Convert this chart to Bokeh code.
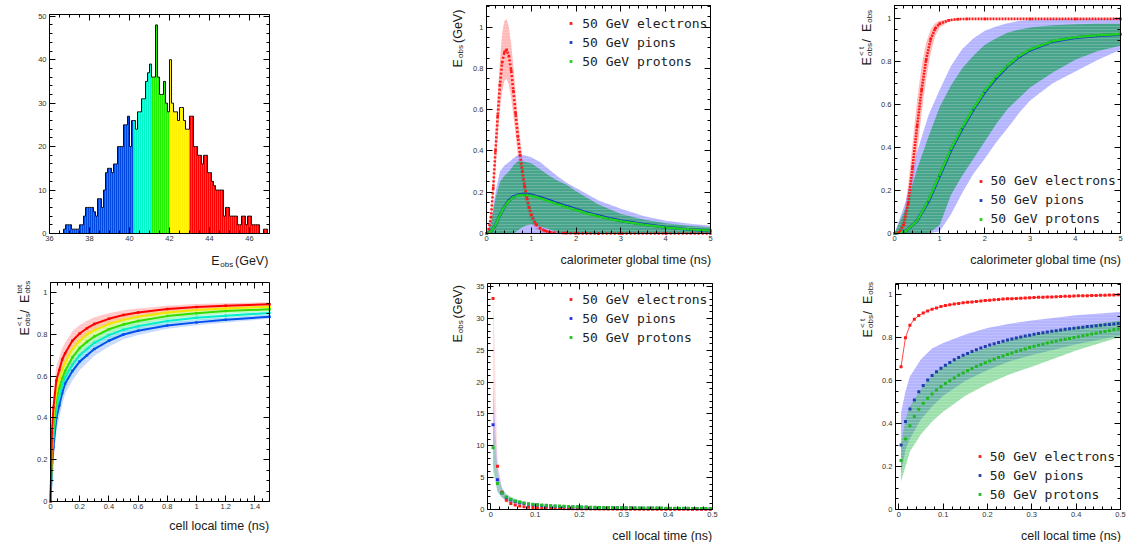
import math
from bokeh.plotting import figure
from bokeh.layouts import column, row
from bokeh.models import (Range1d, LinearAxis, SingleIntervalTicker, CustomJSTickFormatter,
                          Label, Legend, LegendItem)
from bokeh.embed import file_html
from bokeh.resources import INLINE

# ============================ DATA ============================
# Panel 1: histogram of E_obs (GeV), 0.1 GeV bins from 36 to 47
hist_first_edge = 36.0
hist_bin_width = 0.1
hist_counts = [0, 0, 0, 0, 0, 0, 0, 1, 2, 2,
               2, 1, 1, 1, 1, 2, 2, 4, 6, 6,
               6, 6, 5, 4, 8, 8, 6, 10, 14, 15,
               15, 14, 16, 16, 20, 20, 20, 25, 25, 27,
               20, 26, 26, 24, 28, 28, 31, 31, 35, 37,
               39, 36, 36, 48, 36, 32, 32, 35, 30, 28,
               40, 30, 28, 28, 26, 29, 29, 26, 24, 24,
               27, 27, 20, 20, 18, 18, 16, 18, 18, 14,
               14, 12, 11, 10, 10, 10, 10, 4, 6, 6,
               4, 4, 4, 4, 2, 2, 4, 4, 2, 4,
               4, 2, 2, 2, 2, 0, 0, 1, 1, 0]
hist_slice_edges = [40.15, 41.05, 41.95, 42.95]
hist_slice_colors = ["#0047e0", "#00f5c8", "#22ee00", "#ffee00", "#ff0000"]

# Panel 2: E_obs vs calorimeter global time
glob_t_e = [0, 0.05, 0.1, 0.15, 0.2, 0.25, 0.3, 0.35, 0.4, 0.45, 0.5, 0.55, 0.6, 0.65, 0.7, 0.75,
            0.8, 0.85, 0.9, 0.95, 1.0, 1.1, 1.2, 1.3, 1.4, 1.5, 1.75, 2.0, 2.5, 3.0, 4.0, 5.0]
el_E = [0, 0.02, 0.08, 0.22, 0.40, 0.57, 0.72, 0.83, 0.88, 0.89, 0.86, 0.79, 0.69, 0.58, 0.47, 0.38,
        0.30, 0.23, 0.175, 0.125, 0.09, 0.045, 0.024, 0.013, 0.007, 0.004, 0.002, 0.001, 0, 0, 0, 0]
el_E_hi = [0, 0.03, 0.11, 0.27, 0.48, 0.67, 0.84, 0.97, 1.03, 1.04, 1.00, 0.92, 0.81, 0.68, 0.56, 0.46,
           0.37, 0.29, 0.225, 0.17, 0.125, 0.07, 0.04, 0.025, 0.015, 0.01, 0.006, 0.004, 0.002, 0.001, 0.001, 0.001]
el_E_lo = [0, 0.01, 0.05, 0.17, 0.32, 0.47, 0.60, 0.69, 0.74, 0.75, 0.72, 0.66, 0.57, 0.48, 0.38, 0.30,
           0.23, 0.17, 0.125, 0.08, 0.055, 0.02, 0.008, 0.002, 0, 0, 0, 0, 0, 0, 0, 0]
glob_t_h = [0, 0.1, 0.2, 0.3, 0.4, 0.5, 0.6, 0.7, 0.8, 0.9, 1.0, 1.2, 1.4, 1.6, 1.8, 2.0,
            2.25, 2.5, 2.75, 3.0, 3.5, 4.0, 4.5, 5.0]
pi_E = [0, 0.01, 0.04, 0.09, 0.13, 0.16, 0.178, 0.187, 0.19, 0.19, 0.187, 0.175, 0.16, 0.145, 0.131, 0.118,
        0.10, 0.086, 0.073, 0.062, 0.045, 0.03, 0.02, 0.013]
pr_E = [0, 0.01, 0.04, 0.09, 0.13, 0.158, 0.175, 0.184, 0.187, 0.186, 0.183, 0.171, 0.156, 0.141, 0.127, 0.114,
        0.097, 0.083, 0.07, 0.06, 0.043, 0.029, 0.02, 0.014]
glob_t_hb = [0, 0.1, 0.2, 0.3, 0.4, 0.5, 0.6, 0.7, 0.8, 0.9, 1.0, 1.2, 1.4, 1.6, 1.8, 2.0,
             2.5, 3.0, 3.5, 4.0, 4.5, 5.0]
pi_E_hi = [0, 0.06, 0.2, 0.3, 0.33, 0.345, 0.365, 0.38, 0.38, 0.375, 0.37, 0.345, 0.31, 0.275, 0.245, 0.22,
           0.16, 0.12, 0.085, 0.062, 0.048, 0.037]
pi_E_lo = [0, 0, 0, 0, 0, 0, 0, 0, 0, 0, 0, 0, 0, 0, 0, 0, 0, 0, 0, 0, 0, 0]
pr_E_hi = [0, 0.05, 0.17, 0.25, 0.28, 0.30, 0.33, 0.35, 0.35, 0.345, 0.34, 0.31, 0.28, 0.255, 0.235, 0.205,
           0.14, 0.095, 0.068, 0.05, 0.038, 0.03]
pr_E_lo = [0, 0, 0, 0, 0, 0, 0, 0.015, 0.03, 0.04, 0.045, 0.035, 0.02, 0.005, 0, 0,
           0, 0, 0, 0, 0, 0]

# Panel 3: cumulative fraction vs calorimeter global time
glob_t_ec = [0, 0.1, 0.2, 0.3, 0.4, 0.5, 0.6, 0.7, 0.8, 0.9, 1.0, 1.2, 1.4, 1.6, 2.0, 3.0, 4.0, 5.0]
el_frac = [0, 0.005, 0.04, 0.14, 0.31, 0.50, 0.67, 0.81, 0.905, 0.955, 0.978, 0.994, 0.999, 1, 1, 1, 1, 1]
el_frac_hi = [0, 0.012, 0.075, 0.22, 0.42, 0.62, 0.78, 0.89, 0.95, 0.98, 0.992, 0.999, 1, 1, 1, 1, 1, 1]
el_frac_lo = [0, 0.001, 0.015, 0.08, 0.21, 0.38, 0.56, 0.72, 0.84, 0.92, 0.96, 0.987, 0.997, 1, 1, 1, 1, 1]
glob_t_hc = [0, 0.25, 0.5, 0.75, 1.0, 1.25, 1.5, 1.75, 2.0, 2.25, 2.5, 2.75, 3.0, 3.5, 4.0, 4.5, 5.0]
pi_frac = [0, 0.01, 0.06, 0.15, 0.27, 0.39, 0.49, 0.58, 0.66, 0.725, 0.78, 0.823, 0.855, 0.895, 0.913, 0.922, 0.928]
pr_frac = [0, 0.01, 0.06, 0.155, 0.275, 0.395, 0.495, 0.585, 0.665, 0.73, 0.783, 0.826, 0.858, 0.897, 0.915, 0.924, 0.93]
pi_frac_hi = [0, 0.15, 0.38, 0.55, 0.67, 0.78, 0.86, 0.91, 0.945, 0.965, 0.98, 0.99, 0.995, 1.0, 1.0, 1.0, 1.0]
pi_frac_lo = [0, 0, 0, 0, 0.01, 0.09, 0.19, 0.28, 0.35, 0.425, 0.49, 0.56, 0.62, 0.70, 0.755, 0.81, 0.856]
pr_frac_hi = [0, 0.12, 0.30, 0.45, 0.59, 0.69, 0.77, 0.83, 0.88, 0.91, 0.935, 0.95, 0.96, 0.97, 0.975, 0.977, 0.978]
pr_frac_lo = [0, 0, 0, 0, 0.04, 0.18, 0.27, 0.35, 0.43, 0.51, 0.58, 0.63, 0.68, 0.75, 0.81, 0.85, 0.875]

# Panel 4: cumulative fraction vs cell local time, for the five E_obs slices
cell_t4 = [0, 0.01, 0.02, 0.04, 0.06, 0.08, 0.1, 0.15, 0.2, 0.25, 0.3, 0.4, 0.5, 0.6, 0.8, 1.0, 1.2, 1.5]
slice_red = [0, 0.33, 0.45, 0.58, 0.63, 0.68, 0.71, 0.77, 0.805, 0.83, 0.85, 0.875, 0.893, 0.905, 0.922, 0.932, 0.938, 0.945]
slice_yellow = [0, 0.28, 0.41, 0.53, 0.585, 0.63, 0.665, 0.73, 0.77, 0.80, 0.82, 0.85, 0.87, 0.885, 0.905, 0.917, 0.925, 0.933]
slice_green = [0, 0.24, 0.36, 0.49, 0.545, 0.59, 0.625, 0.69, 0.735, 0.765, 0.79, 0.825, 0.848, 0.865, 0.888, 0.902, 0.912, 0.921]
slice_cyan = [0, 0.20, 0.31, 0.44, 0.50, 0.555, 0.595, 0.655, 0.70, 0.73, 0.76, 0.797, 0.823, 0.84, 0.865, 0.88, 0.89, 0.903]
slice_blue = [0, 0.16, 0.26, 0.40, 0.46, 0.52, 0.565, 0.625, 0.67, 0.70, 0.73, 0.77, 0.80, 0.818, 0.843, 0.858, 0.87, 0.885]
slice_halfwidth = [0, 0.07, 0.07, 0.065, 0.06, 0.055, 0.05, 0.045, 0.04, 0.036, 0.032, 0.027, 0.023, 0.02, 0.016, 0.014, 0.012, 0.01]

# Panels 5 and 6: cell local time bins
cell_t = [0.005, 0.015, 0.025, 0.035, 0.045, 0.055, 0.065, 0.075, 0.085, 0.095,
          0.105, 0.115, 0.125, 0.135, 0.145, 0.155, 0.165, 0.175, 0.185, 0.195,
          0.205, 0.215, 0.225, 0.235, 0.245, 0.255, 0.265, 0.275, 0.285, 0.295,
          0.305, 0.315, 0.325, 0.335, 0.345, 0.355, 0.365, 0.375, 0.385, 0.395,
          0.405, 0.415, 0.425, 0.435, 0.445, 0.455, 0.465, 0.475, 0.485, 0.495]
el_cell_E = [33.1, 6.8, 2.7, 1.45, 0.95, 0.72, 0.56, 0.45, 0.37, 0.31,
             0.27, 0.24, 0.21, 0.19, 0.17, 0.155, 0.14, 0.13, 0.12, 0.11,
             0.1, 0.095, 0.09, 0.085, 0.08, 0.075, 0.07, 0.066, 0.062, 0.058,
             0.055, 0.052, 0.049, 0.046, 0.044, 0.042, 0.04, 0.038, 0.036, 0.034,
             0.032, 0.031, 0.03, 0.029, 0.028, 0.027, 0.026, 0.025, 0.024, 0.023]
pi_cell_E = [13.3, 4.65, 2.6, 1.9, 1.5, 1.25, 1.07, 0.94, 0.84, 0.76,
             0.7, 0.64, 0.59, 0.55, 0.52, 0.49, 0.46, 0.43, 0.41, 0.39,
             0.37, 0.35, 0.33, 0.32, 0.3, 0.29, 0.28, 0.27, 0.26, 0.25,
             0.24, 0.23, 0.22, 0.21, 0.205, 0.2, 0.19, 0.185, 0.18, 0.175,
             0.17, 0.165, 0.16, 0.155, 0.15, 0.145, 0.14, 0.137, 0.134, 0.13]
pr_cell_E = [9.7, 4.1, 2.6, 1.95, 1.6, 1.35, 1.17, 1.03, 0.92, 0.83,
             0.76, 0.7, 0.65, 0.6, 0.56, 0.53, 0.5, 0.47, 0.44, 0.42,
             0.4, 0.38, 0.36, 0.35, 0.33, 0.32, 0.31, 0.3, 0.29, 0.28,
             0.27, 0.26, 0.25, 0.245, 0.24, 0.23, 0.225, 0.22, 0.21, 0.205,
             0.2, 0.195, 0.19, 0.185, 0.18, 0.175, 0.17, 0.165, 0.16, 0.155]
cell_t5b = [0.005, 0.015, 0.025, 0.035, 0.045, 0.055, 0.065, 0.075]
el_cell_E_hi = [35.3, 8.0, 3.2, 1.8, 1.2, 0.9, 0.7, 0.56]
el_cell_E_lo = [12.0, 5.5, 2.2, 1.1, 0.7, 0.55, 0.42, 0.34]
pi_cell_E_hi = [19.5, 6.6, 3.4, 2.4, 1.9, 1.6, 1.35, 1.2]
pi_cell_E_lo = [7.0, 2.8, 1.8, 1.4, 1.1, 0.9, 0.8, 0.7]
pr_cell_E_hi = [13.5, 5.5, 3.3, 2.4, 2.0, 1.7, 1.45, 1.3]
pr_cell_E_lo = [6.0, 2.8, 1.9, 1.5, 1.2, 1.0, 0.9, 0.8]

el_cell_frac = [0.665, 0.80, 0.858, 0.886, 0.903, 0.915, 0.925, 0.933, 0.939, 0.945,
                0.950, 0.954, 0.957, 0.960, 0.963, 0.965, 0.967, 0.969, 0.971, 0.973,
                0.975, 0.977, 0.978, 0.980, 0.981, 0.982, 0.983, 0.984, 0.985, 0.986,
                0.987, 0.988, 0.989, 0.990, 0.990, 0.991, 0.992, 0.993, 0.993, 0.994,
                0.995, 0.995, 0.996, 0.997, 0.997, 0.998, 0.998, 0.999, 0.999, 1.0]
pi_cell_frac = [0.30, 0.41, 0.468, 0.51, 0.548, 0.578, 0.603, 0.624, 0.642, 0.658,
                0.672, 0.685, 0.697, 0.708, 0.718, 0.727, 0.736, 0.744, 0.752, 0.759,
                0.766, 0.772, 0.778, 0.784, 0.789, 0.794, 0.799, 0.803, 0.808, 0.812,
                0.816, 0.82, 0.823, 0.827, 0.83, 0.833, 0.836, 0.839, 0.842, 0.844,
                0.847, 0.849, 0.852, 0.854, 0.856, 0.858, 0.86, 0.862, 0.864, 0.866]
pr_cell_frac = [0.228, 0.328, 0.39, 0.433, 0.467, 0.495, 0.518, 0.538, 0.556, 0.572,
                0.587, 0.60, 0.613, 0.625, 0.636, 0.647, 0.657, 0.666, 0.675, 0.684,
                0.692, 0.70, 0.708, 0.715, 0.722, 0.729, 0.736, 0.742, 0.748, 0.754,
                0.76, 0.765, 0.77, 0.775, 0.78, 0.785, 0.789, 0.793, 0.797, 0.801,
                0.805, 0.809, 0.813, 0.817, 0.821, 0.825, 0.829, 0.833, 0.837, 0.841]
cell_t6b = [0.005, 0.015, 0.025, 0.05, 0.075, 0.1, 0.15, 0.2, 0.25, 0.3, 0.4, 0.5]
pi_cell_frac_hi = [0.45, 0.55, 0.62, 0.70, 0.75, 0.775, 0.815, 0.845, 0.865, 0.88, 0.905, 0.92]
pi_cell_frac_lo = [0.17, 0.28, 0.33, 0.42, 0.48, 0.53, 0.60, 0.65, 0.69, 0.72, 0.77, 0.81]
pr_cell_frac_hi = [0.30, 0.42, 0.48, 0.56, 0.625, 0.665, 0.72, 0.755, 0.79, 0.815, 0.85, 0.88]
pr_cell_frac_lo = [0.13, 0.20, 0.27, 0.35, 0.41, 0.455, 0.53, 0.585, 0.63, 0.665, 0.74, 0.805]

legend_labels = ["50 GeV electrons", "50 GeV pions", "50 GeV protons"]

# ============================ STYLE ============================
RED, BLUE, GREEN = "#ff1a1a", "#1a3cc8", "#1fd01f"
BAND_RED = dict(fill_color="#ff5050", fill_alpha=0.4)
BAND_BLUE = dict(fill_color="#6a6aff", fill_alpha=0.5)
BAND_GREEN = dict(fill_color="#009a40", fill_alpha=0.6)
HATCH = dict(hatch_pattern="horizontal_line", hatch_scale=3, hatch_color="white", hatch_alpha=0.2, hatch_weight=0.8)
SANS = "Liberation Sans"
MONO = "DejaVu Sans Mono"
FMT = "return String(parseFloat(tick.toFixed(4)));"


def make_fig(x0, y0, w, h, frame, xb, yb, xint, xminor, yint, yminor):
    """Figure whose canvas covers its whole cell; the axes box sits at `frame` (page pixels)."""
    L, R, T, B = frame
    xlo, xhi = xb
    ylo, yhi = yb
    sx = (xhi - xlo) / (R - L)
    sy = (yhi - ylo) / (B - T)
    p = figure(width=w, height=h, output_backend="svg", toolbar_location=None,
               x_range=Range1d(xlo - (L - x0) * sx, xhi + (x0 + w - R) * sx),
               y_range=Range1d(ylo - (y0 + h - B) * sy, yhi + (T - y0) * sy),
               x_axis_type=None, y_axis_type=None,
               min_border_left=0, min_border_right=0, min_border_top=0, min_border_bottom=0)
    p.outline_line_color = None
    p.background_fill_color = "white"
    p.border_fill_color = "white"
    for side, interval, minor, loc, bounds in (("below", xint, xminor, ylo, xb), ("above", xint, xminor, yhi, xb),
                                               ("left", yint, yminor, xlo, yb), ("right", yint, yminor, xhi, yb)):
        ax = LinearAxis(ticker=SingleIntervalTicker(interval=interval, num_minor_ticks=minor),
                        fixed_location=loc, bounds=bounds)
        ax.axis_line_color = "black"
        ax.axis_line_width = 1
        ax.major_tick_in = 6
        ax.major_tick_out = 0
        ax.minor_tick_in = 3
        ax.minor_tick_out = 0
        ax.major_tick_line_color = "black"
        ax.minor_tick_line_color = "black"
        if side in ("below", "left"):
            ax.formatter = CustomJSTickFormatter(code=FMT)
            ax.major_label_text_font = SANS
            ax.major_label_text_font_size = "7.5px"
            ax.major_label_text_color = "#333333"
            ax.major_label_standoff = 2 if side == "below" else 3
        else:
            ax.formatter = CustomJSTickFormatter(code="return '';")
            ax.major_label_text_font_size = "0px"
            ax.major_label_standoff = 0
        p.add_layout(ax, side)
    return p, (x0, y0 + h)


def put(p, base, X, Y, text, size, align="left", angle=0.0, font=SANS, color="#1a1a1a"):
    bx, by = base
    p.add_layout(Label(x=X - bx, y=by - Y, x_units="screen", y_units="screen", text=text,
                       text_font=font, text_font_size=f"{size}px", text_align=align,
                       text_baseline="alphabetic", angle=angle, text_color=color))


def add_legend(p, base, renderers, glyph_center_x, first_row_y, standoff):
    bx, by = base
    items = [LegendItem(label=l, renderers=[r]) for l, r in zip(legend_labels, renderers)]
    bottom = first_row_y - 7.5 + 3 * 15 + 2 * 4
    lg = Legend(items=items, location=(glyph_center_x - 3.5 - bx, by - bottom + 1), orientation="vertical",
                label_text_font=MONO, label_text_font_size="13px", label_text_color="#222222",
                glyph_width=7, glyph_height=14, label_height=14, spacing=4,
                padding=0, margin=0, label_standoff=standoff,
                background_fill_alpha=0, border_line_alpha=0)
    p.add_layout(lg)


UP = math.pi / 2
MK = dict(marker="square", line_color=None)

# ============================ PANEL 1 ============================
p1, b1 = make_fig(0, 0, 377, 270, (49, 269, 14, 233), (36, 47), (0, 50.4), 2, 4, 10, 5)
edges = [round(hist_first_edge + i * hist_bin_width, 2) for i in range(len(hist_counts) + 1)]
bin_colors = []
for lo in edges[:-1]:
    k = sum(1 for e in hist_slice_edges if lo > e)
    bin_colors.append(hist_slice_colors[k])
p1.quad(left=edges[:-1], right=edges[1:], bottom=0, top=hist_counts,
        fill_color=bin_colors, line_color=None)
p1.step(x=edges, y=hist_counts + [hist_counts[-1]], mode="after", line_color="#111111", line_width=1)
put(p1, b1, 210.7, 260, "E", 12.5)
put(p1, b1, 219.8, 263.5, "obs", 8)
put(p1, b1, 234.5, 260, "(GeV)", 12.5)

# ============================ PANEL 2 ============================
p2, b2 = make_fig(377, 0, 377, 270, (486, 710, 5, 233), (0, 5), (0, 1.105), 1, 5, 0.2, 4)
p2.varea(x=glob_t_e, y1=el_E_lo, y2=el_E_hi, **BAND_RED, **HATCH)
p2.varea(x=glob_t_hb, y1=pi_E_lo, y2=pi_E_hi, **BAND_BLUE, **HATCH)
p2.varea(x=glob_t_hb, y1=pr_E_lo, y2=pr_E_hi, **BAND_GREEN, **HATCH)
p2.line(glob_t_h, pi_E, line_color=BLUE, line_width=3)
p2.line(glob_t_h, pr_E, line_color=GREEN, line_width=2.4)
p2.line(glob_t_e, el_E, line_color=RED, line_width=2.6, line_dash="2 2")
r2e = p2.scatter(glob_t_e, el_E, size=2.5, fill_color=RED, **MK)
r2p = p2.scatter(glob_t_h, pi_E, size=2.5, fill_color=BLUE, **MK)
r2g = p2.scatter(glob_t_h, pr_E, size=2.5, fill_color=GREEN, **MK)
add_legend(p2, b2, [r2e, r2p, r2g], 570.7, 24, 8)
put(p2, b2, 710.7, 259, "calorimeter global time (ns)", 12.5, align="right")
put(p2, b2, 457, 67, "E", 12.5, angle=UP)
put(p2, b2, 459.5, 57.5, "obs", 8, angle=UP)
put(p2, b2, 457, 42.5, "(GeV)", 12.5, angle=UP)

# ============================ PANEL 3 ============================
p3, b3 = make_fig(754, 0, 377, 270, (894, 1120, 5, 233), (0, 5), (0, 1.0625), 1, 5, 0.2, 4)
p3.varea(x=glob_t_ec, y1=el_frac_lo, y2=el_frac_hi, **BAND_RED, **HATCH)
p3.varea(x=glob_t_hc, y1=pi_frac_lo, y2=pi_frac_hi, **BAND_BLUE, **HATCH)
p3.varea(x=glob_t_hc, y1=pr_frac_lo, y2=pr_frac_hi, **BAND_GREEN, **HATCH)
p3.line(glob_t_hc, pi_frac, line_color=BLUE, line_width=3)
p3.line(glob_t_hc, pr_frac, line_color=GREEN, line_width=2.4)
p3.line(glob_t_ec, el_frac, line_color=RED, line_width=2.6, line_dash="2 1")
r3e = p3.scatter(glob_t_ec, el_frac, size=2.5, fill_color=RED, **MK)
r3p = p3.scatter(glob_t_hc, pi_frac, size=2.5, fill_color=BLUE, **MK)
r3g = p3.scatter(glob_t_hc, pr_frac, size=2.5, fill_color=GREEN, **MK)
add_legend(p3, b3, [r3e, r3p, r3g], 980, 181.7, 7)
put(p3, b3, 1120.5, 259, "calorimeter global time (ns)", 12.5, align="right")
put(p3, b3, 866.5, 65, "E", 12.5, angle=UP)
put(p3, b3, 869, 55.5, "obs", 8, angle=UP)
put(p3, b3, 861, 55.5, "< t", 8, angle=UP)
put(p3, b3, 866.5, 42, " / ", 12.5, angle=UP)
put(p3, b3, 866.5, 31.6, "E", 12.5, angle=UP)
put(p3, b3, 869, 22.3, "obs", 8, angle=UP)

# ============================ PANEL 4 ============================
p4, b4 = make_fig(0, 270, 377, 272, (50, 269, 282, 501), (0, 1.5), (0, 1.049), 0.2, 4, 0.2, 4)
slices = [(slice_blue, "#0050f0"), (slice_cyan, "#00eec8"), (slice_green, "#33dd00"),
          (slice_yellow, "#f2e600"), (slice_red, "#ff0000")]
for vals, col in slices:
    lo = [v - d for v, d in zip(vals, slice_halfwidth)]
    hi = [v + d for v, d in zip(vals, slice_halfwidth)]
    p4.varea(x=cell_t4, y1=lo, y2=hi, fill_color=col, fill_alpha=0.22, **HATCH)
for vals, col in slices:
    p4.line(cell_t4, vals, line_color=col, line_width=2)
    p4.scatter(cell_t4, vals, size=2.5, fill_color=col, **MK)
put(p4, b4, 268.7, 525.7, "cell local time (ns)", 12.5, align="right")
put(p4, b4, 24.3, 335, "E", 12.5, angle=UP)
put(p4, b4, 26.8, 325.7, "obs", 8, angle=UP)
put(p4, b4, 18.8, 325.7, "< t", 8, angle=UP)
put(p4, b4, 24.3, 312.8, " / ", 12.5, angle=UP)
put(p4, b4, 24.3, 302.4, "E", 12.5, angle=UP)
put(p4, b4, 26.8, 293.1, "obs", 8, angle=UP)
put(p4, b4, 18.8, 293.1, "tot", 8, angle=UP)

# ============================ PANEL 5 ============================
p5, b5 = make_fig(377, 270, 377, 272, (487, 712, 283, 509), (-0.0075, 0.5), (0, 35.47), 0.1, 5, 5, 5)
p5.varea(x=cell_t5b, y1=el_cell_E_lo, y2=el_cell_E_hi, fill_color="#ff8080", fill_alpha=0.25)
p5.varea(x=cell_t5b, y1=pi_cell_E_lo, y2=pi_cell_E_hi, fill_color="#8080ff", fill_alpha=0.35)
p5.varea(x=cell_t5b, y1=pr_cell_E_lo, y2=pr_cell_E_hi, fill_color="#40c060", fill_alpha=0.35)
r5e = p5.scatter(cell_t, el_cell_E, size=3, fill_color=RED, **MK)
r5p = p5.scatter(cell_t, pi_cell_E, size=3, fill_color="#2030e0", **MK)
r5g = p5.scatter(cell_t, pr_cell_E, size=3, fill_color="#20c020", **MK)
add_legend(p5, b5, [r5e, r5p, r5g], 570.7, 300, 8)
put(p5, b5, 711.7, 535.7, "cell local time (ns)", 12.5, align="right")
put(p5, b5, 457, 342, "E", 12.5, angle=UP)
put(p5, b5, 459.5, 332.7, "obs", 8, angle=UP)
put(p5, b5, 457, 318, "(GeV)", 12.5, angle=UP)

# ============================ PANEL 6 ============================
p6, b6 = make_fig(754, 270, 377, 272, (895, 1120, 283, 509), (-0.0075, 0.5), (0, 1.0526), 0.1, 5, 0.2, 4)
p6.varea(x=cell_t6b, y1=pi_cell_frac_lo, y2=pi_cell_frac_hi, **BAND_BLUE, **HATCH)
p6.varea(x=cell_t6b, y1=pr_cell_frac_lo, y2=pr_cell_frac_hi, fill_color="#22b844", fill_alpha=0.45, **HATCH)
p6.line(cell_t, el_cell_frac, line_color=RED, line_width=0.8)
r6e = p6.scatter(cell_t, el_cell_frac, size=3, fill_color=RED, **MK)
r6p = p6.scatter(cell_t, pi_cell_frac, size=3, fill_color="#1f3fa8", **MK)
r6g = p6.scatter(cell_t, pr_cell_frac, size=3, fill_color="#20b820", **MK)
add_legend(p6, b6, [r6e, r6p, r6g], 979.3, 457.3, 7)
put(p6, b6, 1120.5, 535.7, "cell local time (ns)", 12.5, align="right")
put(p6, b6, 867.5, 337, "E", 12.5, angle=UP)
put(p6, b6, 870, 327.5, "obs", 8, angle=UP)
put(p6, b6, 862, 327.5, "< t", 8, angle=UP)
put(p6, b6, 867.5, 314, " / ", 12.5, angle=UP)
put(p6, b6, 867.5, 303.6, "E", 12.5, angle=UP)
put(p6, b6, 870, 294.3, "obs", 8, angle=UP)

layout = column(row(p1, p2, p3), row(p4, p5, p6))
open("out.html", "w").write(file_html(layout, INLINE))
